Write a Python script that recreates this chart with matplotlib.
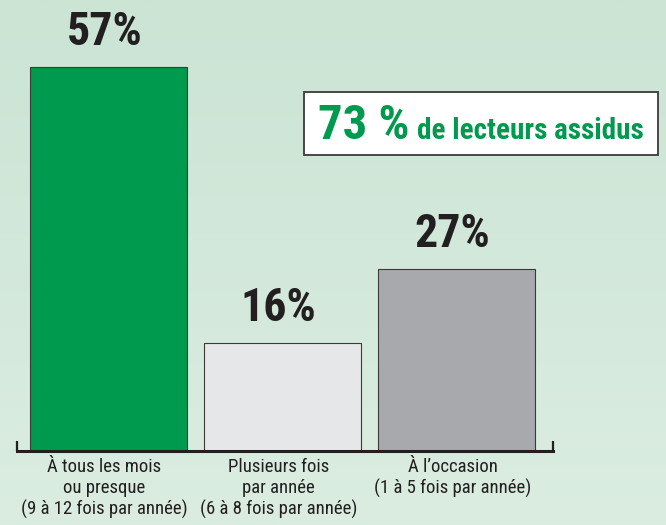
import matplotlib
matplotlib.use("Agg")
import matplotlib.pyplot as plt
import numpy as np
from matplotlib.patches import Rectangle

categories = ["À tous les mois\nou presque\n(9 à 12 fois par année)",
              "Plusieurs fois\npar année\n(6 à 8 fois par année)",
              "À l’occasion\n(1 à 5 fois par année)"]
values = [57, 16, 27]
value_labels = ["57%", "16%", "27%"]
colors = ["#009a4e", "#e6e7e8", "#a7a9ac"]
highlight_value = "73 %"
highlight_text = "de lecteurs assidus"

FONT = ["Roboto Condensed", "DejaVu Sans"]
W, H = 666, 525
fig = plt.figure(figsize=(W / 100, H / 100), dpi=100)

# background gradient
bg = fig.add_axes([0, 0, 1, 1])
grad = np.linspace(0, 1, 256).reshape(-1, 1)
c_top = np.array([0xcb, 0xe4, 0xd4]) / 255
c_bot = np.array([0xdb, 0xed, 0xe1]) / 255
img = c_top[None, None, :] * (1 - grad[..., None]) + c_bot[None, None, :] * grad[..., None]
bg.imshow(img, aspect="auto", extent=[0, 1, 0, 1], origin="upper")
bg.set_axis_off()

base_y = 451
ppu = 384 / 57.0
ax = fig.add_axes([17 / W, (H - base_y) / H, (553 - 17) / W, base_y / H])
ax.set_facecolor("none")
x = np.arange(len(values))
ax.bar(x, values, width=157 / 174, color=colors, edgecolor="#3a3a3a", linewidth=0.8, zorder=2)
ax.set_xlim(-0.526, 2.555)
ax.set_ylim(0, base_y / ppu)
for s in ["top", "right", "left"]:
    ax.spines[s].set_visible(False)
ax.spines["bottom"].set_linewidth(2.2)
ax.spines["bottom"].set_color("#231f20")
ax.set_yticks([])
ax.set_xticks([])
for xe in ax.get_xlim():
    ax.plot([xe, xe], [0, 10 / ppu], color="#231f20", lw=1.6, clip_on=False, solid_capstyle="butt")

for xi, v, lab in zip(x, values, value_labels):
    ax.text(xi - 4 / 174, v + 22 / ppu, lab, ha="center", va="baseline", fontsize=33,
            fontweight="bold", family=FONT, color="#231f20")

for xi, cat in zip(x, categories):
    ax.text(xi - 4 / 174, -7 / ppu, cat, ha="center", va="top", fontsize=13.5, family=FONT,
            color="#231f20", linespacing=1.2)

# highlight box
fig.patches.append(Rectangle((304 / W, 1 - 155 / H), (658 - 304) / W, (155 - 92) / H,
                             transform=fig.transFigure, facecolor="white",
                             edgecolor="#3a3a3a", linewidth=1.3, zorder=5))
fig.text(318 / W, 1 - 139 / H, highlight_value, fontsize=35, fontweight="bold",
         family=FONT, color="#009a4e", ha="left", va="baseline", zorder=6)
fig.text(417 / W, 1 - 139 / H, highlight_text, fontsize=21, fontweight="bold",
         family=FONT, color="#009a4e", ha="left", va="baseline", zorder=6)

fig.savefig("out.png", dpi=100)
